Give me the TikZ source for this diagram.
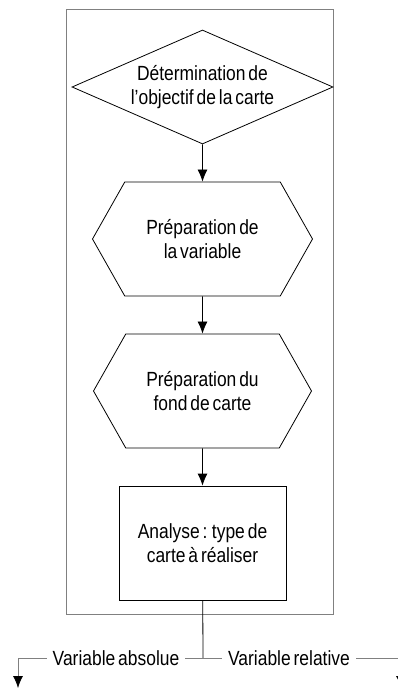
\documentclass[tikz,border=0pt]{standalone}
\usepackage{fontspec}
\setmainfont{Liberation Sans}[FakeStretch=0.85,WordSpace=0.6]
\usetikzlibrary{arrows.meta,shapes.geometric,shapes.symbols}
\definecolor{framegray}{RGB}{128,128,128}

\begin{document}
\begin{tikzpicture}[x=1pt,y=-1pt,node distance=152pt,>={Latex[length=12pt,width=10pt]},
    every node/.style={font=\fontsize{20.5}{23.5}\selectfont,align=center},
    step box/.style={draw,line width=0.8pt,inner sep=0pt},
    lbl/.style={inner xsep=6pt,inner ysep=0pt}]
    \useasboundingbox (0,0) rectangle (398,690);
    \clip (0,0) rectangle (398,690);
    \node[draw=framegray,line width=0.8pt,minimum width=267pt,minimum height=605pt] (frame) at (199.5,311.5) {};
    \node[step box,diamond,aspect=2.2,minimum width=261pt,minimum height=114pt] (obj) at (202.5,87) {Détermination de\\l’objectif de la carte};
    \node[step box,signal,signal to=east and west,signal pointer angle=121,minimum width=220pt,minimum height=114pt,below of=obj] (var) {Préparation de\\la variable};
    \node[step box,signal,signal to=east and west,signal pointer angle=121,minimum width=218pt,minimum height=114pt,below of=var] (fond) {Préparation du\\fond de carte};
    \node[step box,minimum width=167pt,minimum height=114pt,below of=fond] (ana) {Analyse : type de\\carte à réaliser};
    \draw[->,line width=0.8pt] (obj) to (var);
    \draw[->,line width=0.8pt] (var) to (fond);
    \draw[->,line width=0.8pt] (fond) to (ana);
    % split below the frame
    \coordinate (split) at (203,658);
    \coordinate (lcorner) at (18,658);
    \coordinate (lend) at (18,688);
    \coordinate (rcorner) at (401,658);
    \coordinate (rend) at (401,688);
    \node[lbl] (abs) at (116,658) {Variable absolue};
    \node[lbl] (rel) at (289,658) {Variable relative};
    \draw[line width=0.8pt] (ana) to (split);
    \draw[framegray,line width=0.8pt] (split) -- (abs.east);
    \draw[framegray,line width=0.8pt] (split) -- (rel.west);
    \draw[framegray,line width=0.8pt,-{Latex[length=12pt,width=10pt,black]}] (abs.west) -- (lcorner) -- (lend);
    \draw[framegray,line width=0.8pt,-{Latex[length=12pt,width=10pt,black]}] (rel.east) -- (rcorner) -- (rend);
\end{tikzpicture}
\end{document}
